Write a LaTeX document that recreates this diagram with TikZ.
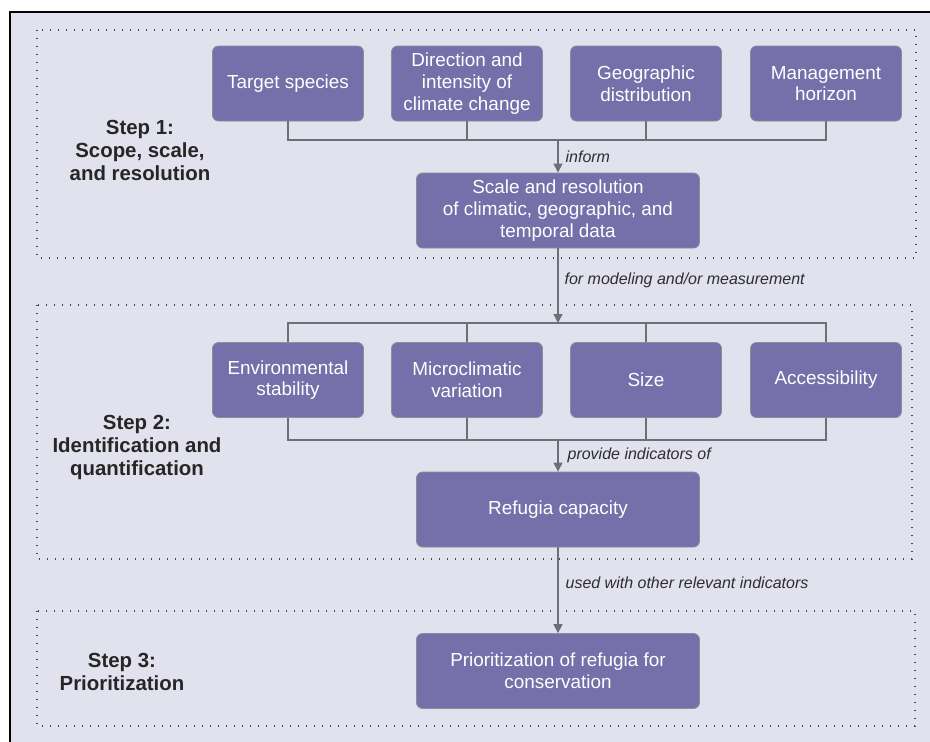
\documentclass[tikz,border=0pt]{standalone}
\usepackage{fontspec}
\setmainfont{Liberation Sans}
\usetikzlibrary{arrows.meta}
\definecolor{boxfill}{RGB}{117,111,170}
\definecolor{boxline}{RGB}{140,140,155}
\definecolor{panel}{RGB}{226,225,238}
\definecolor{linkgray}{RGB}{110,110,118}
\definecolor{dotgray}{RGB}{70,70,75}
\definecolor{labelgray}{RGB}{45,45,50}

\begin{document}
\begin{tikzpicture}[x=1pt, y=-1pt,
    box/.style={draw=boxline, line width=0.8pt, fill=boxfill, rounded corners=6pt, text=white, align=center, inner sep=0pt, font=\fontsize{18.9}{21.7}\selectfont},
    smallbox/.style={box, minimum width=151pt, minimum height=75pt},
    widebox/.style={box, minimum width=283pt, minimum height=75pt},
    link/.style={linkgray, line width=1.2pt},
    arr/.style={link, -{Triangle[width=9pt,length=9pt]}},
    steparea/.style={dotgray, line width=1.4pt, dash pattern=on 1.4pt off 6.6pt},
    steplabel/.style={align=center, text=black!85, font=\fontsize{20.4}{23}\selectfont\bfseries},
    note/.style={anchor=west, inner sep=0pt, text=labelgray, font=\fontsize{16}{19}\selectfont\itshape}]
    \useasboundingbox (0,0) rectangle (930,742);
    \fill[panel] (10,12) rectangle (940,750);
    \draw[black, line width=1.5pt] (940,12) -- (10,12) -- (10,750);
    \draw[steparea] (37,30) rectangle (916,258);
    \draw[steparea] (37,305) rectangle (912,559);
    \draw[steparea] (37,611) rectangle (915,726);

    \node[steplabel] (s1) at (140,150) {Step 1:\\Scope, scale,\\and resolution};
    \node[steplabel] (s2) at (137,447) {Step 2:\\Identification and\\quantification};
    \node[steplabel] (s3) at (122,672) {Step 3:\\Prioritization};

    \foreach \n/\x/\t in {t1/288/Target species, t2/467/{Direction and\\intensity of\\climate change}, t3/646/{Geographic\\distribution}, t4/826/{Management\\horizon}}{
      \node[smallbox] (\n) at (\x,83.5) {\t};
    }
    \foreach \n/\x/\t in {e1/288/{Environmental\\stability}, e2/467/{Microclimatic\\variation}, e3/646/Size, e4/826/Accessibility}{
      \node[smallbox] (\n) at (\x,380) {\t};
    }
    \node[widebox] (scale) at (558,210.5) {Scale and resolution\\of climatic, geographic, and\\temporal data};
    \node[widebox] (cap) at (558,509.5) {Refugia capacity};
    \node[widebox] (prio) at (558,671) {Prioritization of refugia for\\conservation};

    \coordinate (j1) at (558,140);
    \coordinate (j2) at (558,323);
    \coordinate (j3) at (558,440);

    \draw[link] (t1.south) |- (j1) -| (t4.south);
    \draw[link] (e1.north) |- (j2) -| (e4.north);
    \draw[link] (e1.south) |- (j3) -| (e4.south);
    \foreach \i in {2,3}{
      \draw[link] (t\i.south) -- (t\i.south |- j1);
      \draw[link] (e\i.north) -- (e\i.north |- j2);
      \draw[link] (e\i.south) -- (e\i.south |- j3);
    }
    \draw[arr] (j1) -- (scale.north) node[note, midway, xshift=7pt] {inform};
    \draw[arr] (scale.south) -- (j2) node[note, midway, xshift=6pt, yshift=5pt] {for modeling and/or measurement};
    \draw[arr] (j3) -- (cap.north) node[note, midway, xshift=9pt] {provide indicators of};
    \draw[arr] (cap.south) -- (prio.north) node[note, midway, xshift=7pt, yshift=7pt] {used with other relevant indicators};
\end{tikzpicture}
\end{document}
